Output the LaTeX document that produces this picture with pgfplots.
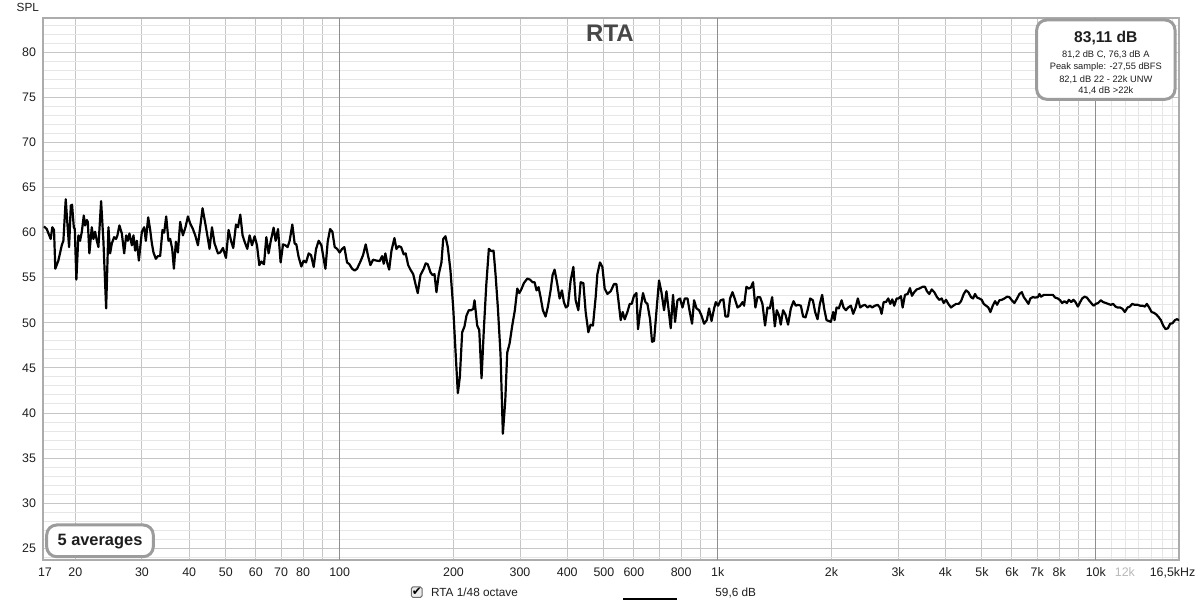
\documentclass[border=0pt]{standalone}
\usepackage{fontspec}
\setmainfont{Liberation Sans}
\newfontfamily\symfont{DejaVu Sans}
\usepackage{pgfplots}
\usepackage{pgfplotstable}
\pgfplotsset{compat=1.18}
\definecolor{gridmaj}{HTML}{C6C6C6}
\definecolor{gridmin}{HTML}{E6E6E6}
\definecolor{griddec}{HTML}{8E8E8E}
\definecolor{boxgray}{HTML}{9C9C9C}
\definecolor{txt}{HTML}{1E1E1E}

\pgfplotstableread{
f db
16.52 60.7
16.80 60.4
17.21 59.3
17.38 60.6
17.56 60.3
17.70 56.0
18.03 56.9
18.41 58.6
18.59 59.1
18.86 63.7
19.05 61.0
19.25 58.4
19.45 63.0
19.60 63.1
19.81 60.6
19.93 60.4
20.12 54.8
20.37 59.7
20.58 59.1
20.80 60.1
21.05 61.9
21.22 60.8
21.44 61.4
21.57 61.2
21.78 57.7
22.10 60.6
22.32 59.3
22.55 60.1
22.79 59.1
23.01 58.4
23.39 63.5
23.72 59.1
24.12 51.6
24.46 60.6
24.71 57.7
24.97 58.8
25.32 59.5
25.63 59.3
25.84 59.7
26.15 60.8
26.54 59.9
26.92 57.7
27.25 59.7
27.53 59.1
27.80 59.9
28.21 58.6
28.49 59.7
28.78 58.0
29.08 59.1
29.44 56.9
29.98 60.1
30.41 60.6
30.72 59.1
31.16 61.7
31.54 60.3
31.87 58.8
32.18 57.8
32.65 57.1
33.06 57.4
33.52 57.4
34.00 60.3
34.35 60.0
34.77 61.8
35.26 59.1
35.63 59.3
36.07 58.2
36.44 56.0
36.89 59.0
37.34 57.8
37.87 61.2
38.50 59.7
39.11 60.6
39.69 61.8
40.25 61.0
40.92 60.4
41.50 59.7
42.19 58.6
43.39 62.7
44.30 60.6
45.28 58.2
45.95 60.6
46.68 58.8
47.66 57.7
48.33 57.8
49.13 58.3
50.04 57.2
50.84 60.3
51.69 59.0
52.31 58.3
53.19 60.9
53.84 60.6
54.60 62.0
55.37 59.7
56.05 59.0
56.98 58.2
57.79 59.7
58.64 58.6
59.58 59.6
60.45 58.6
61.31 56.4
62.06 56.8
63.09 56.5
63.98 59.5
64.88 57.7
65.68 59.0
66.89 60.55
67.71 59.1
68.71 60.4
69.81 56.7
70.84 58.7
71.84 58.6
72.86 58.4
73.75 59.1
74.97 60.9
76.03 58.8
76.82 58.7
77.91 57.3
79.20 56.25
80.32 56.9
81.51 56.7
82.81 57.7
84.03 57.5
85.37 56.2
86.63 58.2
88.01 59.1
89.48 58.6
90.55 57.3
91.69 56.0
92.98 59.0
94.35 60.4
95.68 60.1
97.03 58.4
98.47 58.2
100.0 57.8
101.5 58.2
102.9 58.4
104.6 56.7
106.1 56.5
107.9 56.0
109.6 55.8
111.2 56.0
113.5 56.8
115.3 57.5
117.2 58.7
118.9 57.4
120.6 56.4
122.6 57.0
125.1 56.9
127.6 56.85
129.5 57.4
130.8 56.55
132.1 57.7
133.5 56.7
135.2 55.9
137.1 58.0
139.6 59.4
141.3 58.2
143.3 58.5
145.4 58.4
147.7 57.6
149.5 57.7
151.8 56.4
153.9 55.9
156.5 55.4
158.7 54.3
160.9 53.3
163.6 55.3
166.9 56.0
168.9 56.6
171.0 56.5
173.9 55.6
176.0 55.3
178.2 55.4
180.3 53.4
182.9 55.4
185.9 56.7
187.9 59.3
190.5 59.6
193.2 58.4
196.4 55.8
199.7 51.7
202.5 46.9
205.4 42.2
207.9 43.96
210.9 48.96
213.9 49.6
216.5 50.8
219.6 51.4
222.8 51.4
225.6 51.55
227.4 52.5
231.1 49.7
234.0 49.2
237.3 43.85
240.6 49.2
244.2 54.15
248.1 58.2
251.7 57.96
255.3 58.0
258.4 55.4
262.1 51.7
266.4 46.5
270.2 37.7
274.2 41.4
277.5 46.7
281.5 47.7
286.1 49.7
290.7 51.4
295.0 53.8
298.6 53.3
302.3 53.7
307.1 54.4
313.5 54.9
318.5 54.8
323.8 54.5
327.8 54.5
331.8 53.6
335.9 53.96
340.0 52.85
344.8 51.4
350.5 50.7
355.5 51.8
361.4 53.6
365.8 55.3
370.3 55.9
376.5 54.3
381.8 52.7
387.2 53.6
391.9 52.3
396.7 51.7
401.6 51.9
408.3 54.7
415.1 56.2
420.9 52.5
427.9 51.4
433.9 54.5
441.2 54.4
447.4 51.2
454.8 48.96
461.2 49.8
467.7 49.7
475.5 52.85
480.5 55.4
488.1 56.7
495.3 56.2
502.3 53.8
510.7 53.2
521.1 53.5
531.6 54.3
539.5 54.3
546.1 52.5
553.8 50.3
560.6 51.2
567.5 50.4
576.9 51.2
585.1 52.1
592.2 52.1
600.6 53.0
609.5 53.3
615.4 49.3
625.6 51.7
634.5 53.3
643.8 52.3
651.7 52.1
662.2 50.4
670.3 47.9
678.5 48.0
689.8 51.7
699.5 54.7
709.8 53.4
721.2 51.4
731.8 53.5
740.8 51.6
751.2 49.4
761.8 53.1
771.2 50.1
782.6 52.5
795.1 52.7
806.8 51.7
818.2 52.7
831.8 52.7
843.5 51.2
855.4 49.9
865.9 52.5
878.7 51.6
892.7 51.4
905.9 50.8
920.4 49.9
935.7 50.3
948.9 51.6
962.9 50.2
978.2 51.6
988.4 52.3
1002 51.9
1018 52.5
1035 52.6
1048 50.7
1065 50.7
1078 52.7
1094 53.4
1109 52.7
1128 51.7
1146 51.9
1163 52.3
1174 51.9
1191 54.0
1206 53.8
1223 53.9
1240 54.5
1258 51.7
1274 52.85
1294 52.85
1313 52.1
1334 49.7
1354 51.7
1373 51.6
1393 52.85
1416 49.6
1433 51.4
1453 50.8
1468 49.8
1489 51.4
1511 50.9
1535 49.8
1561 51.6
1587 52.4
1609 51.9
1632 52.0
1659 51.9
1682 50.7
1707 50.6
1731 51.5
1756 52.7
1785 52.5
1810 51.2
1837 50.4
1863 52.1
1889 53.1
1912 51.6
1940 50.3
1968 50.2
1992 50.1
2020 51.2
2037 50.3
2062 51.7
2091 51.6
2126 52.5
2152 51.7
2183 51.4
2213 51.7
2250 51.9
2282 51.0
2316 51.7
2348 52.7
2381 51.7
2417 51.9
2451 52.0
2491 51.7
2527 51.9
2562 51.7
2605 51.9
2648 52.0
2685 51.7
2713 51.0
2747 52.3
2786 52.3
2825 52.7
2860 52.1
2895 52.6
2930 51.9
2973 52.7
3010 52.7
3052 52.96
3084 51.7
3128 53.1
3180 53.2
3225 53.85
3264 53.0
3310 53.4
3359 53.7
3413 53.8
3484 54.0
3533 54.0
3577 53.5
3627 53.2
3681 53.7
3740 53.4
3802 52.85
3855 52.55
3912 52.7
3960 52.2
4016 52.55
4073 52.1
4140 51.7
4199 51.9
4269 52.1
4339 52.1
4401 52.4
4474 53.2
4537 53.6
4601 53.4
4677 52.85
4735 52.7
4793 53.2
4852 52.8
4920 52.7
4993 52.55
5054 52.1
5125 51.9
5198 51.7
5262 51.2
5339 51.9
5415 52.4
5481 52.0
5558 52.5
5640 52.55
5731 52.7
5826 52.9
5908 52.85
5995 52.5
6091 52.2
6192 52.7
6279 53.2
6372 53.4
6450 52.85
6541 52.5
6634 52.1
6715 52.7
6814 52.85
6910 52.8
7025 52.85
7094 53.2
7168 52.9
7287 53.1
7480 53.1
7698 53.1
7807 52.8
7936 52.7
8048 52.5
8147 52.2
8262 52.4
8384 52.2
8487 52.55
8607 52.3
8728 52.55
8835 52.3
8966 51.8
9092 52.3
9204 52.7
9334 52.9
9471 52.8
9588 52.5
9723 52.2
9860 51.9
10000 52.1
10141 52.2
10310 52.5
10455 52.3
10629 52.2
10779 52.1
10958 52.0
11113 52.1
11276 51.8
11415 51.7
11597 51.7
11768 51.55
11934 51.2
12132 51.7
12304 51.8
12477 52.1
12685 52.0
12895 52.0
13101 51.9
13295 51.9
13482 51.8
13648 52.1
13841 51.7
14045 51.2
14270 51.1
14479 50.9
14684 50.6
14864 50.3
15074 49.7
15296 49.3
15512 49.4
15731 49.9
15963 49.96
16189 50.3
16387 50.4
16619 50.3
}\rtadata

\begin{document}
\begin{tikzpicture}
\path[use as bounding box] (-21.5pt,-26.5pt) rectangle (578.5pt,280pt);
\begin{axis}[
  at={(0pt,0pt)}, anchor=south west,
  scale only axis, width=568pt, height=271.15pt,
  xmode=log, log basis x=10,
  xmin=16.42, xmax=16600, ymin=23.7, ymax=83.84,
  xtick={20,30,40,50,60,70,80,90,100,200,300,400,500,600,700,800,900,1000,2000,3000,4000,5000,6000,7000,8000,9000,10000},
  xticklabels={20,30,40,50,60,70,80,,100,200,300,400,500,600,,800,,1k,2k,3k,4k,5k,6k,7k,8k,,10k},
  minor xtick={11000,12000,13000,14000,15000,16000},
  ytick={25,30,...,80},
  minor ytick={24,...,83},
  grid=both,
  major grid style={draw=gridmaj, line width=0.5pt},
  minor grid style={draw=gridmin, line width=0.5pt},
  extra x ticks={100,1000,10000},
  extra x tick labels={},
  extra x tick style={grid=major, major grid style={draw=griddec, line width=0.5pt}},
  tick style={draw=none},
  axis line style={draw=gray!65, line width=1pt},
  tick label style={font=\fontsize{6.2}{7}\selectfont, text=txt},
  /pgf/number format/assume math mode=true,
  xticklabel style={anchor=base, yshift=-8.4pt},
]
\addplot[black, line width=1.1pt, line join=round, mark=none] table[x=f, y=db] {\rtadata};
\end{axis}

% extra tick labels
\node[font=\fontsize{6.2}{7}\selectfont, text=txt, anchor=base] at (1pt,-8.4pt) {17};
\node[font=\fontsize{6.2}{7}\selectfont, text=gray!55, anchor=base] at (540.95pt,-8.4pt) {12k};
\node[font=\fontsize{6.2}{7}\selectfont, text=txt, anchor=base] at (564.75pt,-8.4pt) {16,5kHz};
\node[font=\fontsize{5.9}{7}\selectfont, text=txt] at (-7.6pt,276.1pt) {SPL};

% title
\node[font=\fontsize{12}{14}\selectfont\bfseries, text=black!72] at (283.5pt,263.5pt) {RTA};

% level box
\draw[boxgray, line width=1.5pt, rounded corners=5pt, fill=white] (496.85pt,230.35pt) rectangle (566pt,270pt);
\node[font=\fontsize{7.8}{9}\selectfont\bfseries, text=txt] at (531.4pt,260.85pt) {83,11 dB};
\node[font=\fontsize{4.65}{5}\selectfont, text=txt] at (531.4pt,252.85pt) {81,2 dB C, 76,3 dB A};
\node[font=\fontsize{4.65}{5}\selectfont, text=txt] at (531.4pt,246.35pt) {Peak sample: -27,55 dBFS};
\node[font=\fontsize{4.65}{5}\selectfont, text=txt] at (531.4pt,240.2pt) {82,1 dB 22 - 22k UNW};
\node[font=\fontsize{4.65}{5}\selectfont, text=txt] at (531.4pt,234.6pt) {41,4 dB >22k};

% averages box
\draw[boxgray, line width=1.5pt, rounded corners=5pt, fill=white] (1.85pt,1.65pt) rectangle (55.15pt,17.5pt);
\node[font=\fontsize{8.2}{9}\selectfont\bfseries, text=txt] at (28.5pt,9.2pt) {5 averages};

% legend
\draw[draw=gray!85!black, fill=gray!15, rounded corners=0.8pt, line width=0.5pt] (184.2pt,-18.75pt) rectangle (189.5pt,-13.45pt);
\node[font=\symfont\fontsize{6}{6}\selectfont, text=black, inner sep=0pt] at (187.0pt,-16.0pt) {✔};
\node[anchor=west, font=\fontsize{5.9}{7}\selectfont, text=txt, inner sep=0pt] at (193.85pt,-16.3pt) {RTA 1/48 octave};
\draw[black, line width=1pt] (290.15pt,-19.4pt) -- (316.85pt,-19.4pt);
\node[anchor=west, font=\fontsize{5.9}{7}\selectfont, text=txt, inner sep=0pt] at (336pt,-16.3pt) {59,6 dB};
\end{tikzpicture}
\end{document}
